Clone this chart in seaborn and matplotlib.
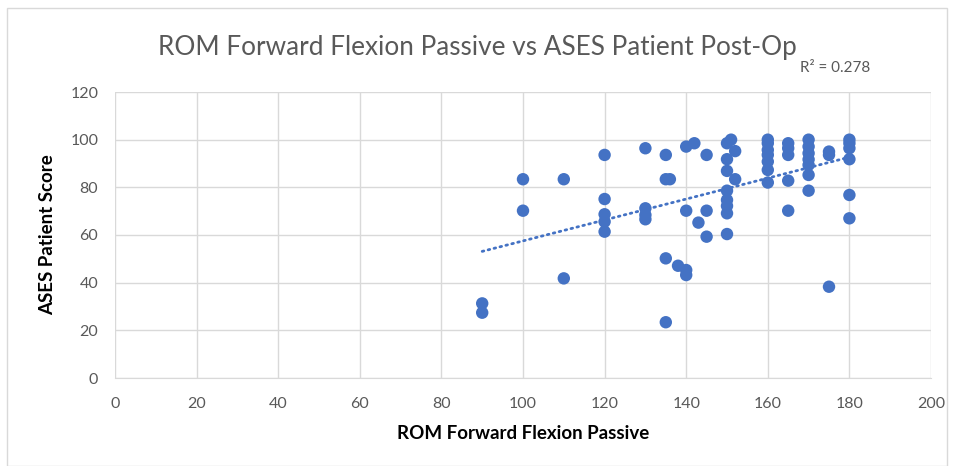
import numpy as np
import pandas as pd
import matplotlib
matplotlib.use("Agg")
import matplotlib.pyplot as plt
import seaborn as sns

rom_flexion = [
    90, 90, 100, 100, 110, 110,
    120, 120, 120, 120, 120,
    130, 130, 130, 130,
    135, 135, 136, 135, 135,
    138, 140, 140, 140, 140, 142, 143,
    145, 145, 145,
    150, 150, 150, 150, 150, 150, 150, 150, 151, 152, 152,
    160, 160, 160, 160, 160, 160, 160,
    165, 165, 165, 165, 165,
    170, 170, 170, 170, 170, 170, 170,
    175, 175, 175,
    180, 180, 180, 180, 180, 180,
]
ases_score = [
    31.3, 27.4, 83.4, 70.2, 83.4, 41.8,
    93.6, 75.1, 68.7, 65.6, 61.4,
    96.4, 71.2, 68.4, 66.6,
    93.6, 83.4, 83.4, 50.2, 23.4,
    47.1, 97.1, 70.2, 45.3, 43.2, 98.5, 65.2,
    93.6, 70.2, 59.3,
    98.5, 91.8, 86.9, 78.6, 74.7, 72.2, 69.1, 60.4, 100.0, 95.2, 83.4,
    100.0, 98.5, 95.7, 93.6, 90.8, 87.3, 82.0,
    98.5, 96.4, 93.6, 82.8, 70.2,
    100.0, 97.1, 94.3, 91.7, 89.4, 85.2, 78.6,
    95.0, 93.6, 38.3,
    100.0, 98.5, 96.4, 91.8, 76.8, 67.0,
]
x_ticks = [0, 20, 40, 60, 80, 100, 120, 140, 160, 180, 200]
y_ticks = [0, 20, 40, 60, 80, 100, 120]

df = pd.DataFrame({"ROM Forward Flexion Passive": rom_flexion,
                   "ASES Patient Score": ases_score})

sns.set_style("white")
plt.rcParams["font.family"] = ["Lato", "DejaVu Sans"]

blue = "#4472C4"
gray_txt = "#595959"

fig = plt.figure(figsize=(9.54, 4.66), dpi=100)
ax = fig.add_axes([115/954, 1-378/466, (931-115)/954, (378-92)/466])

sns.scatterplot(data=df, x="ROM Forward Flexion Passive", y="ASES Patient Score",
                ax=ax, color=blue, s=80, edgecolor="none", zorder=3)
sns.regplot(data=df, x="ROM Forward Flexion Passive", y="ASES Patient Score",
            ax=ax, scatter=False, ci=None, truncate=True,
            line_kws=dict(color=blue, lw=2, linestyle=(0, (0.6, 1.6)),
                          dash_capstyle="round", zorder=2))

ax.set_xlim(0, 200)
ax.set_ylim(0, 120)
ax.set_xticks(x_ticks)
ax.set_yticks(y_ticks)
ax.grid(True, color="#d9d9d9", lw=1)
ax.set_axisbelow(True)
for side in ["top", "right", "left"]:
    ax.spines[side].set_visible(False)
ax.spines["bottom"].set_color("#d9d9d9")
ax.tick_params(axis="x", length=0, labelsize=11.5, labelcolor=gray_txt, pad=14)
ax.tick_params(axis="y", length=0, labelsize=11.5, labelcolor=gray_txt, pad=12)

ax.set_xlabel("ROM Forward Flexion Passive", fontsize=13.5, fontweight="bold",
              color="black", labelpad=10)
ax.set_ylabel("ASES Patient Score", fontsize=13.5, fontweight="bold",
              color="black", labelpad=10)

fig.text(0.5, 1-47/466, "ROM Forward Flexion Passive vs ASES Patient Post-Op",
         ha="center", va="center", fontsize=18.8, color=gray_txt)
fig.text(800/954, 1-68/466, "R² = 0.278", ha="left", va="center",
         fontsize=11, color=gray_txt)

fig.patches.append(plt.Rectangle((7/954, 0.0), 1-14/954, 1-8/466,
                                 transform=fig.transFigure, fill=False,
                                 edgecolor="#d9d9d9", lw=1))

fig.savefig("out.png", dpi=100, facecolor="white")
